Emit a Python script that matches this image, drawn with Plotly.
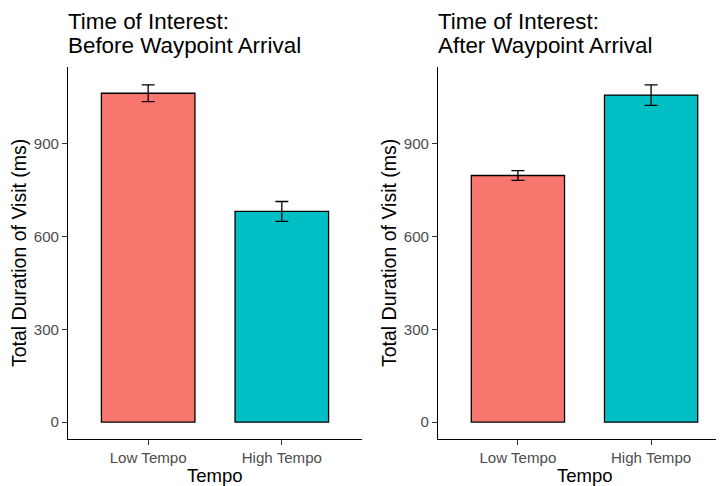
import plotly.graph_objects as go

# page has an 8px body margin: figure starts at (8, 8) in the window
OFF = 8
W, H = 724 - OFF, 486 - OFF

categories = ["Low Tempo", "High Tempo"]
before_means = [1063, 681]
before_se = [27, 32]
after_means = [797, 1057]
after_se = [16, 33]
bar_colors = ["#F8766D", "#00BFC4"]
y_ticks = [0, 300, 600, 900]
panel_titles = [["Time of Interest:", "Before Waypoint Arrival"],
                ["Time of Interest:", "After Waypoint Arrival"]]
x_title = "Tempo"
y_title = "Total Duration of Visit (ms)"

FONT = "Liberation Sans, Arial, sans-serif"

def px(x):
    return (x - OFF) / W

def py(y):
    return 1 - (y - OFF) / H

fig = go.Figure()
for i, (means, se) in enumerate([(before_means, before_se), (after_means, after_se)]):
    fig.add_trace(go.Bar(
        x=categories, y=means,
        marker=dict(color=bar_colors, line=dict(color="black", width=1.3)),
        width=0.7,
        error_y=dict(type="data", array=se, visible=True, color="black",
                     thickness=1.3, width=6.5),
        xaxis="x" if i == 0 else "x2",
        yaxis="y" if i == 0 else "y2",
        showlegend=False,
        hoverinfo="skip",
    ))

ydom = [py(439), py(67)]
yrange = [-54.7, 1147.8]
axis_common = dict(
    showline=True, linecolor="black", linewidth=1.1,
    ticks="outside", ticklen=5, tickwidth=1.1, tickcolor="#333333",
    showgrid=False, zeroline=False,
    tickfont=dict(family=FONT, size=15.1, color="#4D4D4D"),
)
fig.update_layout(
    width=W, height=H,
    margin=dict(l=0, r=0, t=0, b=0),
    paper_bgcolor="white", plot_bgcolor="white",
    xaxis=dict(domain=[px(68), px(362)], range=[-0.6, 1.6], anchor="y",
               type="category", **axis_common),
    yaxis=dict(domain=ydom, range=yrange, anchor="x", tickvals=y_ticks,
               **axis_common),
    xaxis2=dict(domain=[px(438), 1.0], range=[-0.6, 1.6 - (731 - 724) / 133.3],
                anchor="y2", type="category", **axis_common),
    yaxis2=dict(domain=ydom, range=yrange, anchor="x2", tickvals=y_ticks,
                **axis_common),
)

annos = []
for i, (ax_left, ax_right) in enumerate([(68, 362), (438, 731)]):
    for line, ymid in zip(panel_titles[i], [21, 45.5]):
        annos.append(dict(
            text=line, xref="paper", yref="paper",
            x=px(ax_left - 2), y=py(ymid), xanchor="left", yanchor="middle",
            align="left", showarrow=False,
            font=dict(family=FONT, size=22.4, color="black"),
        ))
    annos.append(dict(
        text=x_title, xref="paper", yref="paper",
        x=px((ax_left + ax_right) / 2), y=py(475), xanchor="center", yanchor="middle",
        showarrow=False, font=dict(family=FONT, size=18.5, color="black"),
    ))
    annos.append(dict(
        text=y_title, xref="paper", yref="paper",
        x=px(ax_left - 49), y=py(253), xanchor="center", yanchor="middle",
        textangle=-90, showarrow=False,
        font=dict(family=FONT, size=19.5, color="black"),
    ))
fig.update_layout(annotations=annos)

fig.write_html("out.html")
